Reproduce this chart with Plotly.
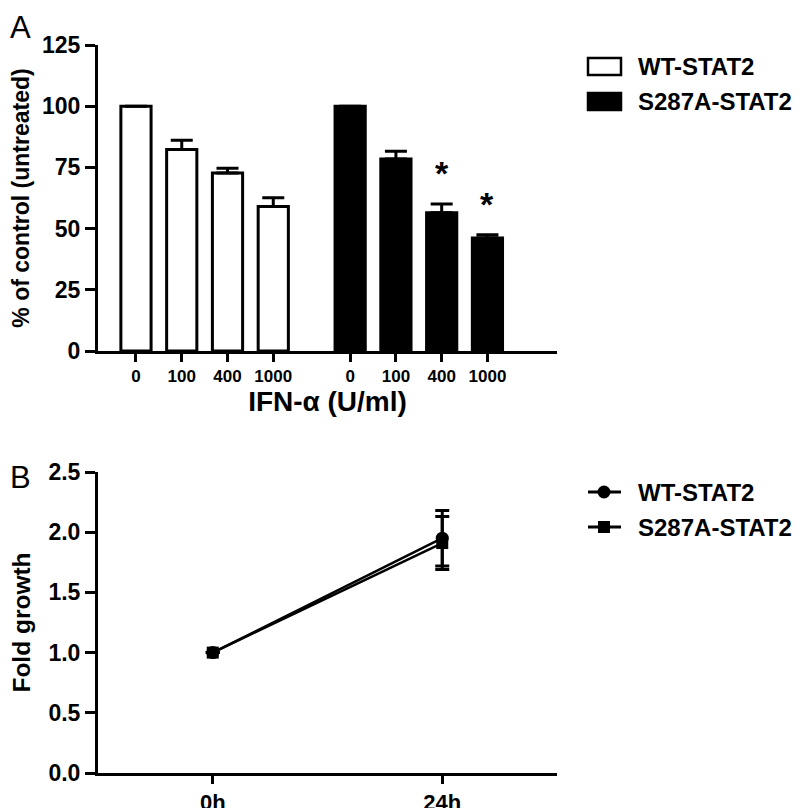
import plotly.graph_objects as go

# ---------------- data ----------------
series_names = ["WT-STAT2", "S287A-STAT2"]

doses = ["0", "100", "400", "1000"]
wt_mean = [100, 82.3, 72.7, 59.0]
wt_sem = [0, 3.8, 2.0, 3.6]
mut_mean = [100, 78.4, 56.5, 46.2]
mut_sem = [0, 3.2, 3.5, 1.3]
mut_significant = [False, False, True, True]

time_labels = ["0h", "24h"]
wt_fold = [1.0, 1.95]
wt_fold_sem = [0, 0.23]
mut_fold = [1.0, 1.91]
mut_fold_sem = [0, 0.22]

# ---------------- layout constants ----------------
FONT = "Liberation Sans, Arial, Helvetica, sans-serif"
OFF = 8                      # default body margin of the html page
W, H = 800 - OFF, 808 - OFF


def px(x):
    return (x - OFF) / W


def py(y):
    return 1 - (y - OFF) / H


GROUP_GAP = 4.68             # offset of the second group of bars (category units)
wt_x = [i + 1 for i in range(len(doses))]
mut_x = [i + 1 + GROUP_GAP for i in range(len(doses))]

XDOM = [px(98), px(557)]
YDOM_A = [py(351), py(45)]
YDOM_B = [py(773), py(472)]

fig = go.Figure()

# ---- Panel A bars ----
fig.add_trace(go.Bar(
    x=wt_x, y=wt_mean, name=series_names[0], width=0.66,
    marker=dict(color="white", line=dict(color="black", width=3)),
    error_y=dict(type="data", array=wt_sem, arrayminus=[0] * len(wt_sem),
                 symmetric=False, color="black", thickness=3, width=11),
    showlegend=False, xaxis="x", yaxis="y"))
fig.add_trace(go.Bar(
    x=mut_x, y=mut_mean, name=series_names[1], width=0.66,
    marker=dict(color="black", line=dict(color="black", width=3)),
    error_y=dict(type="data", array=mut_sem, arrayminus=[0] * len(mut_sem),
                 symmetric=False, color="black", thickness=3, width=11),
    showlegend=False, xaxis="x", yaxis="y"))

# ---- Panel B lines ----
fig.add_trace(go.Scatter(
    x=time_labels, y=wt_fold, name=series_names[0], mode="lines+markers",
    line=dict(color="black", width=2.5),
    marker=dict(symbol="circle", size=13, color="black"),
    error_y=dict(type="data", array=wt_fold_sem, color="black", thickness=3, width=7),
    showlegend=False, xaxis="x2", yaxis="y2"))
fig.add_trace(go.Scatter(
    x=time_labels, y=mut_fold, name=series_names[1], mode="lines+markers",
    line=dict(color="black", width=2.5),
    marker=dict(symbol="square", size=12, color="black"),
    error_y=dict(type="data", array=mut_fold_sem, color="black", thickness=3, width=7),
    showlegend=False, xaxis="x2", yaxis="y2"))


def bold(s):
    return dict(family=FONT, size=s, color="black", weight="bold")


axis_common = dict(showline=True, linecolor="black", linewidth=3, ticks="outside",
                   tickcolor="black", tickwidth=2.5, showgrid=False, zeroline=False,
                   automargin=False, mirror=False)

annotations = []
shapes = []

# significance asterisks
for xv, m, s, sig in zip(mut_x, mut_mean, mut_sem, mut_significant):
    if sig:
        annotations.append(dict(x=xv, y=m + s, xref="x", yref="y", text="*",
                                showarrow=False, yanchor="bottom", yshift=10,
                                font=bold(34)))
# panel letters
annotations.append(dict(x=px(8), y=py(8), xref="paper", yref="paper", text="A",
                        showarrow=False, xanchor="left", yanchor="top",
                        font=dict(family=FONT, size=31, color="black")))
annotations.append(dict(x=px(8), y=py(458), xref="paper", yref="paper", text="B",
                        showarrow=False, xanchor="left", yanchor="top",
                        font=dict(family=FONT, size=31, color="black")))

# legend for panel A (wide rectangular swatches)
swatch_fill = ["white", "black"]
swatch_rows = [(58, 75), (93, 110)]
for name, fill, (t, b) in zip(series_names, swatch_fill, swatch_rows):
    shapes.append(dict(type="rect", xref="paper", yref="paper",
                       x0=px(588), x1=px(621), y0=py(b), y1=py(t),
                       fillcolor=fill, line=dict(color="black", width=2.5)))
    annotations.append(dict(x=px(636), y=py((t + b) / 2), xref="paper", yref="paper",
                            text=name, showarrow=False, xanchor="left", yanchor="middle",
                            font=bold(24)))

# legend for panel B (line + marker glyphs)
legend_b_rows = [492, 527]
legend_b_symbols = ["circle", "square"]
for name, sym, yc in zip(series_names, legend_b_symbols, legend_b_rows):
    shapes.append(dict(type="line", xref="paper", yref="paper",
                       x0=px(588), x1=px(621), y0=py(yc), y1=py(yc),
                       line=dict(color="black", width=3)))
    r = 6.5 if sym == "circle" else 6
    shapes.append(dict(type="circle" if sym == "circle" else "rect",
                       xref="paper", yref="paper",
                       x0=px(604 - r), x1=px(604 + r), y0=py(yc + r), y1=py(yc - r),
                       fillcolor="black", line=dict(color="black", width=0)))
    annotations.append(dict(x=px(636), y=py(yc), xref="paper", yref="paper",
                            text=name, showarrow=False, xanchor="left", yanchor="middle",
                            font=bold(24)))

fig.update_layout(
    width=W, height=H, margin=dict(l=0, r=0, t=0, b=0),
    paper_bgcolor="white", plot_bgcolor="white",
    barmode="overlay", showlegend=False,
    font=dict(family=FONT, color="black"),
    xaxis=dict(domain=XDOM, anchor="y", range=[0.17, 10.2],
               tickvals=wt_x + mut_x, ticktext=doses + doses, ticklen=8,
               tickfont=bold(17),
               title=dict(text="IFN-α (U/ml)", standoff=2, font=bold(28)),
               **axis_common),
    yaxis=dict(domain=YDOM_A, anchor="x", range=[0, 125],
               tickvals=[0, 25, 50, 75, 100, 125],
               ticklen=10, tickfont=bold(23),
               title=dict(text="% of control (untreated)", standoff=9, font=bold(23)),
               **axis_common),
    xaxis2=dict(domain=XDOM, anchor="y2", type="category", range=[-0.5, 1.5],
                ticklen=8, tickfont=bold(22), **axis_common),
    yaxis2=dict(domain=YDOM_B, anchor="x2", range=[0, 2.5],
                tickvals=[0, 0.5, 1.0, 1.5, 2.0, 2.5],
                tickformat=".1f", ticklen=10, tickfont=bold(23),
                title=dict(text="Fold growth", standoff=12, font=bold(24.5)),
                **axis_common),
    annotations=annotations,
    shapes=shapes,
)

fig.write_html("out.html")
